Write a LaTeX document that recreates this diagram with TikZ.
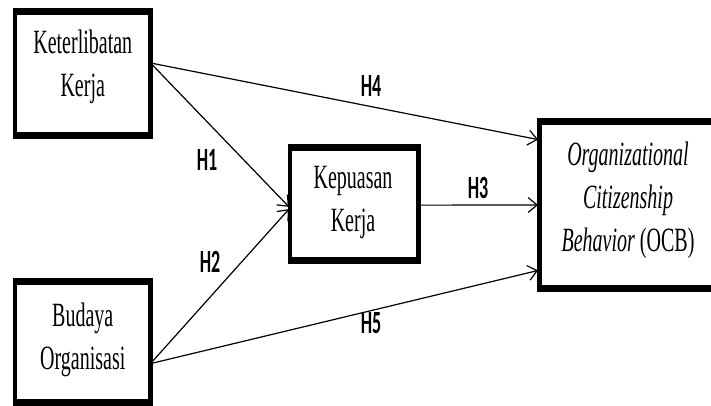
\documentclass[tikz,border=0pt]{standalone}
\usepackage{fontspec}
\setmainfont{Liberation Serif}
\newfontfamily\labelfont{Carlito}
\usetikzlibrary{arrows.meta,calc}

% tall, narrow lettering used throughout
\newcommand{\tallbox}[1]{\scalebox{1}[1.7]{\begin{tabular}{@{}c@{}}#1\end{tabular}}}
\newcommand{\tallhyp}[1]{\scalebox{1}[1.8]{#1}}

\begin{document}
\begin{tikzpicture}[x=1pt,y=-1pt,
  box/.style={draw, line width=4.5pt, inner sep=0pt, outer sep=0pt},
  boxtext/.style={inner sep=0pt, font=\fontsize{20}{25.3}\selectfont},
  hyp/.style={inner sep=0pt, font=\labelfont\bfseries\fontsize{18}{18}\selectfont},
  conn/.style={line width=1.2pt, -{Straight Barb[length=9pt,width=15pt]}, shorten >=1.5pt},
  heavy/.style={line width=7pt, shorten <=-2.25pt, shorten >=-2.25pt},
]
\clip (0,0) rectangle (711,405);
\fill[white] (0,0) rectangle (711,405);

% boxes
\node[box, minimum width=135.5pt, minimum height=124pt]   (k) at (82.75,73.5) {};
\node[box, minimum width=135.5pt, minimum height=121.5pt] (b) at (82.75,341.75) {};
\node[box, minimum width=128.5pt, minimum height=113pt]   (p) at (354.25,204) {};
\node[box, minimum width=190.5pt, minimum height=167pt]   (o) at (634.75,205) {};

% heavier top and bottom edges
\foreach \n in {k,b,p,o}{
  \draw[heavy] (\n.north west) -- (\n.north east);
  \draw[heavy] (\n.south west) -- (\n.south east);
}

% box texts
\node[boxtext] (kt) at (82.75,66)  {\tallbox{Keterlibatan\\Kerja}};
\node[boxtext] (bt) at (82.75,339) {\tallbox{Budaya\\Organisasi}};
\node[boxtext] (pt) at (353,201.6) {\tallbox{Kepuasan\\Kerja}};
\node[boxtext] (ot) at (628,200)   {\tallbox{\textit{Organizational}\\\textit{Citizenship}\\\textit{Behavior} (OCB)}};

% connectors
\draw[conn] ($(k.north east)!0.415!(k.south east)$) -- ($(p.north west)!0.535!(p.south west)$);
\draw[conn] ($(b.north east)!0.68!(b.south east)$)  -- ($(p.north west)!0.535!(p.south west)$);
\draw[conn] ($(p.north east)!0.51!(p.south east)$)  -- ($(o.north west)!0.5!(o.south west)$);
\draw[conn] ($(k.north east)!0.415!(k.south east)$) -- ($(o.north west)!0.11!(o.south west)$);
\draw[conn] ($(b.north east)!0.68!(b.south east)$)  -- ($(o.north west)!0.89!(o.south west)$);

% hypothesis labels
\node[hyp] (h1) at (207,160) {\tallhyp{H1}};
\node[hyp] (h2) at (210,262) {\tallhyp{H2}};
\node[hyp] (h3) at (478,188) {\tallhyp{H3}};
\node[hyp] (h4) at (371,86)  {\tallhyp{H4}};
\node[hyp] (h5) at (371,323) {\tallhyp{H5}};
\end{tikzpicture}
\end{document}
